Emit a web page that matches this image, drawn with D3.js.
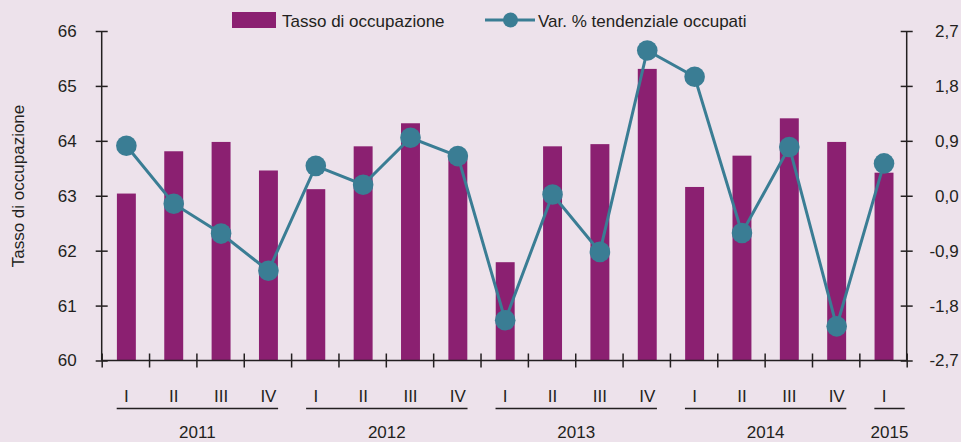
<!DOCTYPE html>
<html>
<head>
<meta charset="utf-8">
<script src="https://d3js.org/d3.v7.min.js"></script>
<style>
body { margin: 0; background: #ede2eb; }
text { font-family: "Liberation Sans", Arial, sans-serif; fill: #231f20; }
</style>
</head>
<body>
<div id="chart"></div>
<script>

var width = 961, height = 442;

// data
var quarters = ["I","II","III","IV","I","II","III","IV","I","II","III","IV","I","II","III","IV","I"];
var years = ["2011","2012","2013","2014","2015"];
var yearSize = [4, 4, 4, 4, 1];
var tasso = [63.04, 63.81, 63.98, 63.46, 63.12, 63.90, 64.32, 63.75, 61.79, 63.90, 63.94, 65.31, 63.16, 63.73, 64.41, 63.98, 63.42];
var varOcc = [0.82, -0.13, -0.62, -1.23, 0.49, 0.18, 0.95, 0.65, -2.04, 0.02, -0.92, 2.38, 1.95, -0.61, 0.80, -2.14, 0.53];
var leftTicks = [60, 61, 62, 63, 64, 65, 66];
var rightTicks = [-2.7, -1.8, -0.9, 0, 0.9, 1.8, 2.7];

var x0 = 101.7, x1 = 906.7, yTop = 31, yBot = 360.5;
var barColor = "#8b2071", lineColor = "#3a7d94", axisColor = "#231f20";

var svg = d3.select("#chart")
  .append("svg")
    .attr("width", width)
    .attr("height", height);

svg.append("rect").attr("width", width).attr("height", height).attr("fill", "#ede2eb");

var x = d3.scaleBand()
  .domain(d3.range(quarters.length))
  .range([x0, x1])
  .padding(0);

var y = d3.scaleLinear().domain([60, 66]).range([yBot, yTop]);
var y2 = d3.scaleLinear().domain([-2.7, 2.7]).range([yBot, yTop]);

var bw = x.bandwidth() * 0.4;

// bars
svg.append("g")
  .selectAll("rect")
  .data(tasso)
  .enter()
  .append("rect")
    .attr("x", function(d, i){ return x(i) + x.bandwidth() / 2 - bw / 2 + 1; })
    .attr("y", function(d){ return y(d); })
    .attr("width", bw)
    .attr("height", function(d){ return y(60) - y(d); })
    .attr("fill", barColor);

// left axis
var gl = svg.append("g")
  .attr("transform", "translate(" + x0 + ",0)")
  .call(d3.axisLeft(y).tickValues(leftTicks).tickSize(6).tickPadding(19).tickFormat(d3.format("d")));
gl.selectAll(".tick line").attr("x1", 6);

// right axis
var gr = svg.append("g")
  .attr("transform", "translate(" + x1 + ",0)")
  .call(d3.axisRight(y2).tickValues(rightTicks).tickSize(6)
    .tickFormat(function(d){ return d3.format(".1f")(d).replace(".", ",").replace("−", "-"); }));
gr.selectAll(".tick line").attr("x1", -6);
gr.selectAll(".tick text").attr("x", 52).attr("text-anchor", "end");

// bottom axis with ticks between quarters
var xb = d3.scaleLinear().domain([0, quarters.length]).range([x0, x1]);
var gb = svg.append("g")
  .attr("transform", "translate(0," + yBot + ")")
  .call(d3.axisBottom(xb).tickValues(d3.range(quarters.length + 1)).tickSize(7).tickFormat(""));
gb.selectAll(".tick line").attr("y1", -7);

svg.selectAll(".domain, .tick line")
  .attr("stroke", axisColor)
  .attr("stroke-width", 1.5);
svg.selectAll(".tick text")
  .attr("font-size", "17px")
  .attr("font-family", "Liberation Sans, Arial, sans-serif")
  .attr("fill", axisColor);
gl.select(".domain").attr("d", "M0," + yTop + "V" + yBot);
gr.select(".domain").attr("d", "M0," + yTop + "V" + yBot);
gb.select(".domain").attr("d", "M" + x0 + ",0H" + x1);

// quarter labels
svg.append("g")
  .selectAll("text")
  .data(quarters)
  .enter()
  .append("text")
    .attr("x", function(d, i){ return x(i) + x.bandwidth() / 2 + 1; })
    .attr("y", 401.5)
    .attr("text-anchor", "middle")
    .attr("font-size", "17px")
    .text(function(d){ return d; });

// year groups
var start = 0;
years.forEach(function(yr, k){
  var a = x(start) + 15;
  var b = x(start + yearSize[k] - 1) + x.bandwidth() - (k == years.length - 1 ? 2 : 13);
  svg.append("line")
    .attr("x1", a).attr("x2", b)
    .attr("y1", 408.5).attr("y2", 408.5)
    .attr("stroke", axisColor)
    .attr("stroke-width", 1.5);
  svg.append("text")
    .attr("x", (a + b) / 2)
    .attr("y", 438)
    .attr("text-anchor", "middle")
    .attr("font-size", "17px")
    .text(yr);
  start += yearSize[k];
});

// line series
var line = d3.line()
  .x(function(d, i){ return x(i) + x.bandwidth() / 2 + 1; })
  .y(function(d){ return y2(d); });

svg.append("path")
  .datum(varOcc)
  .attr("d", line)
  .attr("fill", "none")
  .attr("stroke", lineColor)
  .attr("stroke-width", 3);

svg.append("g")
  .selectAll("circle")
  .data(varOcc)
  .enter()
  .append("circle")
    .attr("cx", function(d, i){ return x(i) + x.bandwidth() / 2 + 1; })
    .attr("cy", function(d){ return y2(d); })
    .attr("r", 10.3)
    .attr("fill", lineColor);

// y title
svg.append("text")
  .attr("transform", "translate(24,186) rotate(-90)")
  .attr("text-anchor", "middle")
  .attr("font-size", "17px")
  .text("Tasso di occupazione");

// legend
svg.append("rect")
  .attr("x", 232).attr("y", 12)
  .attr("width", 44).attr("height", 16)
  .attr("fill", barColor);
svg.append("text")
  .attr("x", 282).attr("y", 26.5)
  .attr("font-size", "17px")
  .text("Tasso di occupazione");
svg.append("line")
  .attr("x1", 485).attr("x2", 535)
  .attr("y1", 20).attr("y2", 20)
  .attr("stroke", lineColor)
  .attr("stroke-width", 3);
svg.append("circle")
  .attr("cx", 510.5).attr("cy", 20).attr("r", 7.5)
  .attr("fill", lineColor);
svg.append("text")
  .attr("x", 538).attr("y", 26.5)
  .attr("font-size", "17px")
  .text("Var. % tendenziale occupati");

</script>
</body>
</html>
